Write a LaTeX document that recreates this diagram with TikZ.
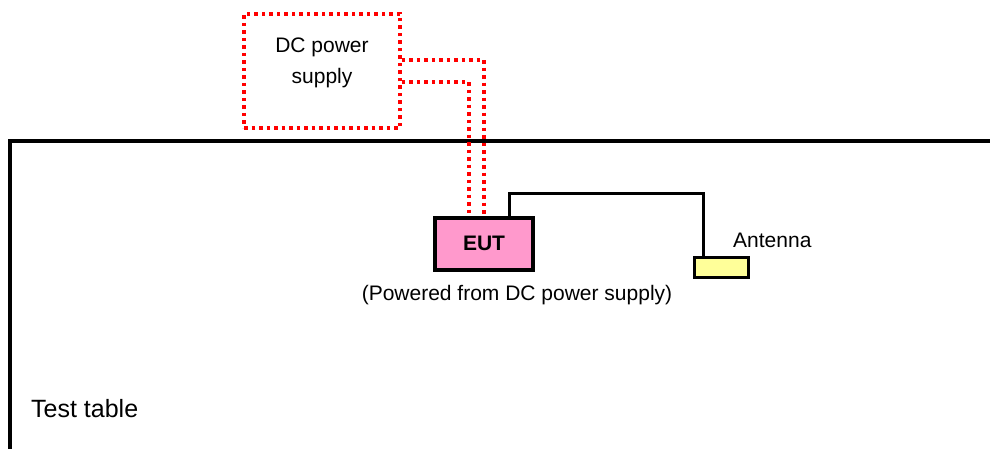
\documentclass[tikz,border=0pt]{standalone}
\usepackage{fontspec}
\setmainfont{Liberation Sans}
\definecolor{eutpink}{HTML}{FF99CC}
\definecolor{antyellow}{HTML}{FFFF99}
\begin{document}
\begin{tikzpicture}[x=1pt,y=-1pt,
  dotline/.style={draw=red,line width=3.5pt,dash pattern=on 3.5pt off 4pt},
  blackline/.style={draw=black,line width=3.5pt},
  txt/.style={font=\fontsize{21}{31}\selectfont,inner sep=0pt},
  dcbox/.style={dotline,rectangle,minimum width=156pt,minimum height=114pt,inner sep=0pt},
  eutbox/.style={rectangle,draw=black,line width=4pt,fill=eutpink,minimum width=98pt,minimum height=52pt,inner sep=0pt,font=\fontsize{21}{25}\selectfont\bfseries},
  antbox/.style={rectangle,draw=black,line width=3pt,fill=antyellow,minimum width=54pt,minimum height=20pt,inner sep=0pt}
]
\useasboundingbox (0,0) rectangle (990,449);
% test table
\coordinate (tl) at (10,141);
\coordinate (tb) at (10,449);
\coordinate (tr) at (990,141);
\draw[blackline] (tb) -- (tl) -- (tr);
% nodes
\node[dcbox] (dc) at (322,71) {};
\node[txt,align=center] (dctext) at (322,63) {DC power\\supply};
\node[eutbox] (eut) at (484,244) {\raisebox{2pt}{EUT}};
\node[antbox] (ant) at (721,267) {};
% cables
\coordinate (o1) at (484,60);
\coordinate (i1) at (469,82);
\draw[dotline] (dc.east |- o1) -- (o1) -- (eut.north -| o1);
\draw[dotline] (dc.east |- i1) -- (i1) -- (eut.north -| i1);
\coordinate (ac1) at (509,194);
\coordinate (ac2) at (703,194);
\draw[draw=black,line width=3pt] (eut.north -| ac1) -- (ac1) -- (ac2) -- (ant.north -| ac2);
% labels
\node[txt,anchor=base west] (antlbl) at (733,247) {Antenna};
\node[txt,anchor=base] (pwr) at (517,300) {(Powered from DC power supply)};
\node[txt,anchor=base west,font=\fontsize{25}{30}\selectfont] (tt) at (31,417) {Test table};
\end{tikzpicture}
\end{document}
